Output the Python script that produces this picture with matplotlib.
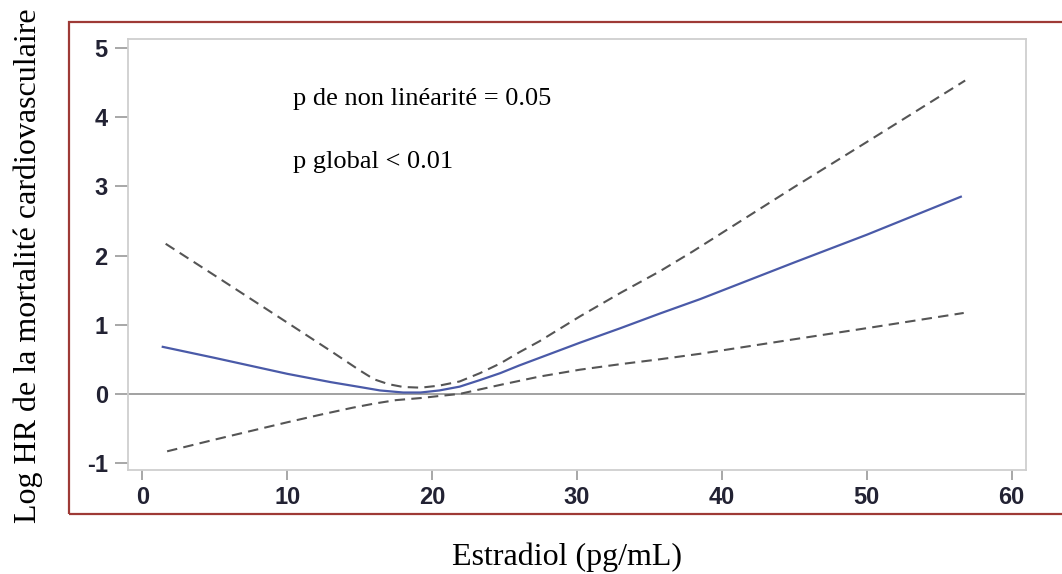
import matplotlib
matplotlib.use("Agg")
import matplotlib.pyplot as plt
from matplotlib.patches import Rectangle

# Data
est_hr = [1.4, 5, 10, 13, 15, 16.4, 18, 19.2, 20.5, 21.9, 23.3, 24.7, 26, 27.4, 30.2, 33, 35.7, 38.5, 45, 50, 56.5]
log_hr = [0.68, 0.52, 0.29, 0.17, 0.10, 0.05, 0.02, 0.02, 0.05, 0.105, 0.20, 0.30, 0.41, 0.52, 0.74, 0.95, 1.16, 1.37, 1.90, 2.30, 2.85]

est_up = [1.6, 5, 10, 13, 14, 15, 16, 17, 18, 19.2, 20.5, 21.9, 23.3, 24.7, 26, 27.4, 30.2, 33, 35.7, 38, 45, 50, 56.8]
ci_up = [2.17, 1.71, 1.03, 0.62, 0.48, 0.34, 0.21, 0.14, 0.10, 0.09, 0.12, 0.18, 0.30, 0.44, 0.60, 0.76, 1.12, 1.46, 1.77, 2.06, 2.99, 3.64, 4.53]

est_lo = [1.7, 5, 10, 12.3, 14.5, 16, 17.5, 19.2, 20.5, 21.9, 24.7, 27.4, 30.2, 33, 35.7, 38.5, 45, 50, 56.7]
ci_lo = [-0.83, -0.66, -0.41, -0.30, -0.20, -0.14, -0.09, -0.06, -0.03, 0.0, 0.13, 0.25, 0.35, 0.43, 0.50, 0.58, 0.79, 0.95, 1.17]

xticks = [0, 10, 20, 30, 40, 50, 60]
yticks = [-1, 0, 1, 2, 3, 4, 5]
xlabel = "Estradiol (pg/mL)"
ylabel = "Log HR de la mortalité cardiovasculaire"
note1 = "p de non linéarité = 0.05"
note2 = "p global < 0.01"

W, H = 1062, 574
fig = plt.figure(figsize=(W / 100, H / 100), dpi=100)
ax = fig.add_axes([128 / W, 1 - 470 / H, (1026 - 128) / W, (470 - 39) / H])

ax.axhline(0, color="#9a9a9a", lw=1.3, zorder=1)
ax.plot(est_up, ci_up, color="#555555", lw=1.5, dashes=(5, 3), zorder=2)
ax.plot(est_lo, ci_lo, color="#555555", lw=1.5, dashes=(5, 3), zorder=2)
ax.plot(est_hr, log_hr, color="#4a5aa8", lw=1.6, zorder=3)

ax.set_xlim(-1.0, 61.0)
ax.set_ylim(-1.1, 5.13)
ax.set_xticks(xticks)
ax.set_yticks(yticks)
ax.set_xticklabels([str(t) for t in xticks])
ax.set_yticklabels([str(t) for t in yticks])
for s in ax.spines.values():
    s.set_color("#cfcfcf")
    s.set_linewidth(1.3)
ax.tick_params(axis="both", direction="out", color="#a0a0a0", width=1.3,
               labelcolor="#222233", labelsize=17)
ax.tick_params(axis="y", length=9.5, pad=5)
ax.tick_params(axis="x", length=7, pad=4.5)
for lab in ax.get_xticklabels() + ax.get_yticklabels():
    lab.set_family("Liberation Sans")
    lab.set_fontweight("bold")

ax.text((293 - 128) / (1026 - 128), (470 - 105) / (470 - 39), note1,
        transform=ax.transAxes, family="Liberation Serif", fontsize=19,
        va="baseline", ha="left", color="black")
ax.text((293 - 128) / (1026 - 128), (470 - 168) / (470 - 39), note2,
        transform=ax.transAxes, family="Liberation Serif", fontsize=19,
        va="baseline", ha="left", color="black")

# red frame around the chart
rect = Rectangle((69 / W, 1 - 514 / H), 1.05 - 69 / W, (514 - 22) / H,
                 transform=fig.transFigure, fill=False, edgecolor="#9e3a36",
                 linewidth=1.6, clip_on=False)
fig.patches.append(rect)

fig.text(567.5 / W, 1 - 565 / H, xlabel, family="Liberation Serif", fontsize=23,
         ha="center", va="baseline", color="black")
fig.text(28 / W, 1 - 523 / H, ylabel, family="Liberation Serif", fontsize=23,
         ha="center", va="bottom", rotation=90, color="black")

fig.savefig("out.png", dpi=100)
